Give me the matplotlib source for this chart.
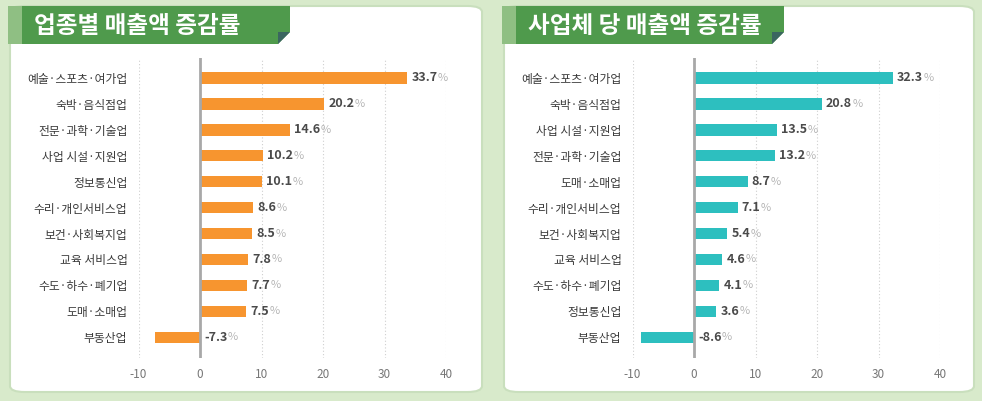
import matplotlib
matplotlib.use("Agg")
import matplotlib.pyplot as plt
from matplotlib.patches import FancyBboxPatch, Rectangle, Polygon

plt.rcParams['font.family'] = ['Noto Sans CJK KR', 'DejaVu Sans']

# 업종별 매출액 증감률
left_title = "업종별 매출액 증감률"
left_cats = ["예술·스포츠·여가업", "숙박·음식점업", "전문·과학·기술업", "사업 시설·지원업",
             "정보통신업", "수리·개인서비스업", "보건·사회복지업", "교육 서비스업",
             "수도·하수·폐기업", "도매·소매업", "부동산업"]
left_vals = [33.7, 20.2, 14.6, 10.2, 10.1, 8.6, 8.5, 7.8, 7.7, 7.5, -7.3]

# 사업체 당 매출액 증감률
right_title = "사업체 당 매출액 증감률"
right_cats = ["예술·스포츠·여가업", "숙박·음식점업", "사업 시설·지원업", "전문·과학·기술업",
              "도매·소매업", "수리·개인서비스업", "보건·사회복지업", "교육 서비스업",
              "수도·하수·폐기업", "정보통신업", "부동산업"]
right_vals = [32.3, 20.8, 13.5, 13.2, 8.7, 7.1, 5.4, 4.6, 4.1, 3.6, -8.6]

xticks = [-10, 0, 10, 20, 30, 40]

W, H = 982, 401
fig = plt.figure(figsize=(9.82, 4.01), dpi=100)
fig.patch.set_facecolor('#d8eacb')


def px(x, y):
    return x / W, 1 - y / H


def panel(x0, x1, title, cats, vals, color):
    # white card
    card = FancyBboxPatch(px(x0, 392), (x1 - x0) / W, (392 - 6) / H,
                          boxstyle="round,pad=0,rounding_size=0.015",
                          transform=fig.transFigure, facecolor='white',
                          edgecolor='#c9dfbd', linewidth=1.5, zorder=0)
    fig.patches.append(card)
    # title banner
    bx0 = x0 - 2
    bx1 = x0 + 280
    fig.patches.append(Rectangle(px(bx0, 44), 14 / W, 38 / H, transform=fig.transFigure,
                                 facecolor='#8fbf83', edgecolor='none', zorder=1))
    fig.patches.append(Rectangle(px(bx0 + 14, 44), (bx1 - bx0 - 14) / W, 38 / H,
                                 transform=fig.transFigure, facecolor='#4f9a4c',
                                 edgecolor='none', zorder=1))
    fig.patches.append(Polygon([px(bx1 - 12, 44), px(bx1, 32), px(bx1, 44)],
                               transform=fig.transFigure, facecolor='white',
                               edgecolor='none', zorder=2))
    fig.patches.append(Polygon([px(bx1 - 12, 44), px(bx1, 32), px(bx1 - 12, 32)],
                               transform=fig.transFigure, facecolor='#3b6660',
                               edgecolor='none', zorder=2))
    fig.text(*px(bx0 + 26, 26), title, color='white', fontsize=17, fontweight='heavy',
             va='center', ha='left', zorder=3)

    zero = x0 + 190
    ax = fig.add_axes([(zero - 61.5) / W, (401 - 358) / H, 307.5 / W, 300 / H])
    ax.set_zorder(5)
    ax.set_facecolor('none')
    y = list(range(len(cats)))
    ax.barh(y, vals, height=0.44, color=color, zorder=3)
    ax.set_xlim(-10, 40)
    ax.set_ylim(10.8, -0.77)
    ax.set_yticks(y)
    ax.set_yticklabels(cats, fontsize=8.5, color='#3a3a3a')
    ax.set_xticks(xticks)
    ax.set_xticklabels([str(t) for t in xticks], fontsize=8.5, color='#777777')
    ax.tick_params(length=0)
    ax.tick_params(axis='x', pad=7)
    ax.tick_params(axis='y', pad=8)
    for s in ax.spines.values():
        s.set_visible(False)
    for t in xticks:
        if t != 0:
            ax.axvline(t, color='#cfcfcf', linestyle=(0, (1, 2)), linewidth=0.8, zorder=1)
    ax.axvline(0, color='#a8a8a8', linewidth=2, zorder=4)

    fig.canvas.draw()
    r = fig.canvas.get_renderer()
    for yi, v in zip(y, vals):
        xpos = max(v, 0)
        num = ax.annotate(f"{v:.1f}", (xpos, yi), xytext=(3, 0), textcoords='offset points',
                          va='center', ha='left', fontsize=9, fontweight='bold',
                          color='#4a4a4a', zorder=5)
        bb = num.get_window_extent(r)
        ax.annotate("%", (bb.x1, (bb.y0 + bb.y1) / 2), xycoords='figure pixels',
                    xytext=(0.3, 0), textcoords='offset points', va='center', ha='left',
                    fontsize=8, color='#b5b5b5', zorder=5)


panel(10, 482, left_title, left_cats, left_vals, '#f7952f')
panel(504, 974, right_title, right_cats, right_vals, '#2dbfbf')

fig.savefig("out.png", dpi=100, facecolor=fig.get_facecolor())
